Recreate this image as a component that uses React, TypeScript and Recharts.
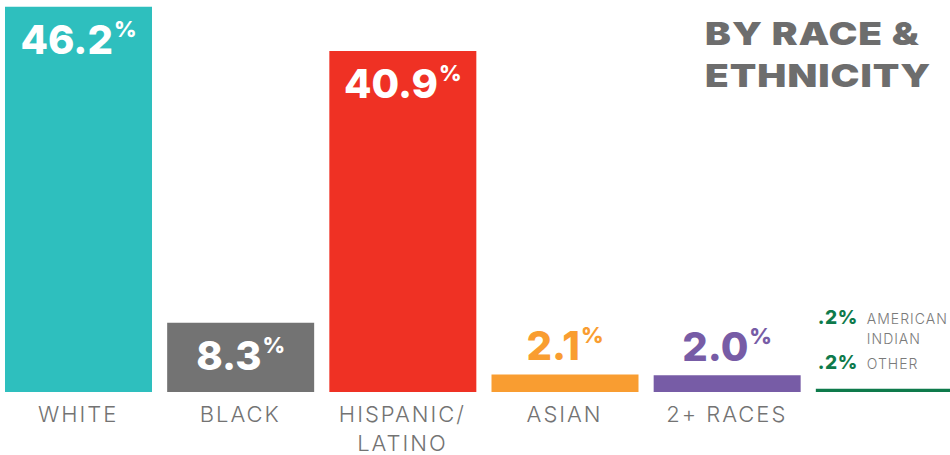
import React from 'react';
import { BarChart, Bar, XAxis, YAxis, Cell, LabelList } from 'recharts';

const categories = ['WHITE', 'BLACK', 'HISPANIC/|LATINO', 'ASIAN', '2+ RACES', ''];
const shares = [46.2, 8.3, 40.9, 2.1, 2.0, 0.4];
const barColors = ['#2ebfbe', '#737373', '#ef3124', '#f99d31', '#775ca6', '#0e7a4b'];
const otherShares = [0.2, 0.2];
const otherLabels = [['AMERICAN', 'INDIAN'], ['OTHER']];
const titleLines = ['BY RACE &', 'ETHNICITY'];

const data = categories.map((name, i) => ({ name, value: shares[i], color: barColors[i] }));

const NUM_FONT = 'Inter, "DejaVu Sans", sans-serif';

const CategoryTick = (props: any) => {
	const { x, y, payload } = props;
	const lines = String(payload.value).split('|');
	return (
		<text
			x={x}
			y={y}
			textAnchor='middle'
			fill='#737373'
			fontFamily={NUM_FONT}
			fontWeight={300}
			fontSize={22}
			letterSpacing={2}
		>
			{lines.map((l, i) => (
				<tspan key={i} x={x} dy={i === 0 ? 22 : 29}>
					{l}
				</tspan>
			))}
		</text>
	);
};

const ValueLabel = (props: any) => {
	const { x, y, width, index, value } = props;
	const cx = x + width / 2;
	if (index === categories.length - 1) {
		// small groups listed as text above the thin bar
		return (
			<g fontFamily={NUM_FONT}>
				{otherShares.map((s, i) => {
					const base = y - 65 + i * 45;
					return (
						<g key={i}>
							<text x={x + 2} y={base} fill={barColors[index]} fontWeight={800} fontSize={19} letterSpacing={0.5}>
								{String(s.toFixed(1)).replace(/^0/, '')}%
							</text>
							{otherLabels[i].map((l, j) => (
								<text key={j} x={x + 51} y={base + j * 20} fill='#7a7a7a' fontWeight={300} fontSize={14} letterSpacing={1}>
									{l}
								</text>
							))}
						</g>
					);
				})}
			</g>
		);
	}
	const inside = value > 5;
	const ty = inside ? y + 47 : y - 14;
	const color = inside ? '#ffffff' : barColors[index];
	return (
		<text x={cx} y={ty} textAnchor='middle' fill={color} fontFamily={NUM_FONT} fontWeight={800}>
			<tspan fontSize={40}>{Number(value).toFixed(1)}</tspan>
			<tspan fontSize={22} dx={1} dy={-17}>
				%
			</tspan>
		</text>
	);
};

export default function App() {
	return (
		<div style={{ position: 'absolute', left: 0, top: 0, width: 950, height: 455, overflow: 'hidden', background: '#fff' }}>
			<div style={{ marginLeft: -3 }}>
				<BarChart width={973} height={455} data={data} margin={{ top: 0, right: 0, left: 0, bottom: 0 }}>
					<XAxis dataKey='name' axisLine={false} tickLine={false} height={63} interval={0} tick={<CategoryTick />} />
					<YAxis hide domain={[0, 47]} />
					<Bar dataKey='value' barSize={147} isAnimationActive={false}>
						{data.map((d, i) => (
							<Cell key={i} fill={d.color} />
						))}
						<LabelList dataKey='value' content={<ValueLabel />} />
					</Bar>
				</BarChart>
			</div>
			<svg width={950} height={455} style={{ position: 'absolute', left: 0, top: 0, pointerEvents: 'none' }}>
				{titleLines.map((t, i) => (
					<g key={i} transform={`translate(705, ${45 + i * 42}) scale(1.25, 1)`}>
						<text x={0} y={0} fill='#6d6d6d' fontFamily={NUM_FONT} fontWeight={900} fontSize={31} letterSpacing={0.8}>
							{t}
						</text>
					</g>
				))}
			</svg>
		</div>
	);
}
